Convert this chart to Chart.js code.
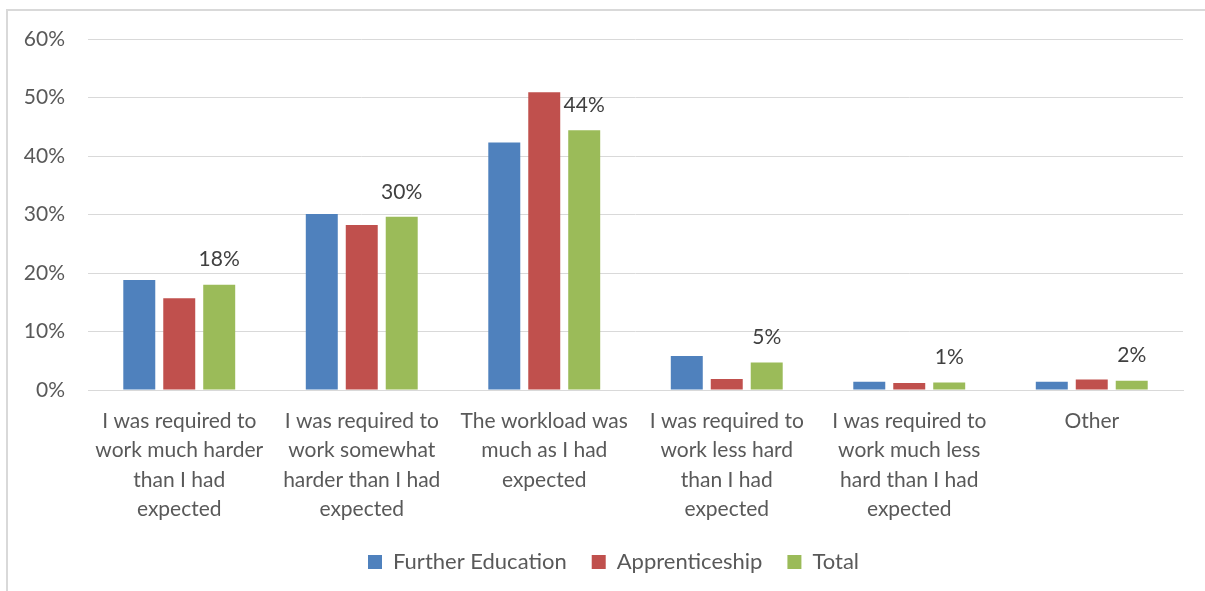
<!DOCTYPE html>
<html lang="en">
<head>
  <meta charset="UTF-8" />
  <title>Workload compared with expectations</title>
  <script src="https://cdn.jsdelivr.net/npm/chart.js"></script>
  <style>
    html, body { margin: 0; padding: 0; background: #fff; }
    #wrap { position: relative; width: 1205px; height: 591px; overflow: hidden; }
    #frame {
      position: absolute; left: 6px; top: 9px; width: 1300px; height: 700px;
      border-left: 2px solid #d9d9d9; border-top: 2px solid #d9d9d9;
    }
    canvas { position: absolute; left: 0; top: 0; }
  </style>
</head>
<body>
  <div id="wrap">
    <div id="frame"></div>
    <canvas id="workloadChart" width="1205" height="591"></canvas>
  </div>

  <script>
    const categories = [
      ['I was required to', 'work much harder', 'than I had', 'expected'],
      ['I was required to', 'work somewhat', 'harder than I had', 'expected'],
      ['The workload was', 'much as I had', 'expected'],
      ['I was required to', 'work less hard', 'than I had', 'expected'],
      ['I was required to', 'work much less', 'hard than I had', 'expected'],
      'Other'
    ];
    const furtherEducation = [18.8, 30.1, 42.3, 5.8, 1.4, 1.4];
    const apprenticeship   = [15.7, 28.2, 50.9, 1.9, 1.2, 1.8];
    const total            = [18.0, 29.6, 44.4, 4.7, 1.3, 1.6];
    const yTicks = [0, 10, 20, 30, 40, 50, 60];

    const FONT = 'Lato, "Open Sans", sans-serif';

    // percentage labels above the Total bars
    const totalLabels = {
      id: 'totalLabels',
      afterDatasetsDraw(chart) {
        const ctx = chart.ctx;
        const meta = chart.getDatasetMeta(2);
        ctx.save();
        ctx.font = '21px ' + FONT;
        ctx.fillStyle = '#404040';
        ctx.textAlign = 'center';
        ctx.textBaseline = 'middle';
        meta.data.forEach((bar, i) => {
          ctx.fillText(Math.round(total[i]) + '%', bar.x, bar.y - 25);
        });
        ctx.restore();
      }
    };

    // nudge the legend a little to the right of the canvas centre
    const legendShift = {
      id: 'legendShift',
      afterLayout(chart) {
        const lg = chart.legend;
        if (!lg) return;
        lg.left += 22;
        lg.right += 22;
      }
    };

    const ctx = document.getElementById('workloadChart').getContext('2d');
    new Chart(ctx, {
      type: 'bar',
      data: {
        labels: categories,
        datasets: [
          { label: 'Further Education', data: furtherEducation, backgroundColor: '#4f81bd' },
          { label: 'Apprenticeship', data: apprenticeship, backgroundColor: '#c0504d' },
          { label: 'Total', data: total, backgroundColor: '#9bbb59' }
        ]
      },
      options: {
        responsive: false,
        animation: false,
        devicePixelRatio: 1,
        categoryPercentage: 0.657,
        barPercentage: 0.8,
        layout: { padding: { top: 39, left: 0, right: 22, bottom: 8 } },
        plugins: {
          legend: {
            position: 'bottom',
            labels: {
              boxWidth: 14,
              boxHeight: 14,
              padding: 25,
              color: '#595959',
              font: { family: FONT, size: 22 }
            }
          },
          tooltip: { enabled: false }
        },
        scales: {
          x: {
            grid: { display: false, drawTicks: false },
            border: { color: '#d9d9d9', width: 1 },
            ticks: {
              color: '#595959',
              padding: 16,
              maxRotation: 0,
              autoSkip: false,
              font: { family: FONT, size: 21, lineHeight: 1.41 }
            },
            afterFit(scale) { scale.height = 136; }
          },
          y: {
            min: 0,
            max: 60,
            afterBuildTicks(scale) {
              scale.ticks = yTicks.map(v => ({ value: v }));
            },
            grid: { color: '#d9d9d9', lineWidth: 1, drawTicks: false },
            border: { display: false },
            ticks: {
              color: '#595959',
              padding: 23,
              font: { family: FONT, size: 21 },
              callback: v => v + '%'
            },
            afterFit(scale) { scale.width = 88; }
          }
        }
      },
      plugins: [totalLabels, legendShift]
    });
  </script>
</body>
</html>
